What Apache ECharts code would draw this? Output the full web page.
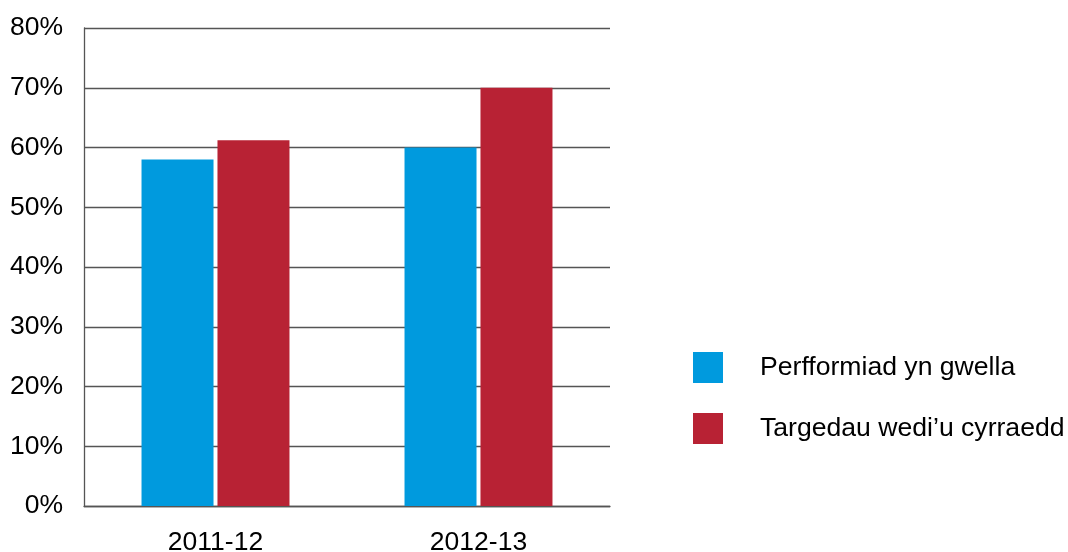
<!DOCTYPE html>
<html>
<head>
<meta charset="utf-8">
<script src="https://cdn.jsdelivr.net/npm/echarts@6/dist/echarts.min.js"></script>
<style>html,body{margin:0;padding:0;background:#fff}#c{width:1068px;height:552px}</style>
</head>
<body>
<div id="c"></div>
<script>
var categories = ['2011-12', '2012-13'];
var seriesNames = ['Perfformiad yn gwella', 'Targedau wedi\u2019u cyrraedd'];
var performance = [58, 60];
var targets = [61.2, 70];
var colors = ['#009ADE', '#B82234'];

var chart = echarts.init(document.getElementById('c'));
var font = '"Liberation Sans", Arial, sans-serif';
chart.setOption({
  animation: false,
  grid: {left: 84, right: 458, top: 28, bottom: 46, containLabel: false, outerBoundsMode: 'none'},
  legend: {
    orient: 'vertical',
    left: 688, top: 347,
    itemWidth: 30, itemHeight: 31, itemGap: 30,
    icon: 'rect',
    textStyle: {fontFamily: font, fontSize: 26.6, color: '#000', padding: [0, 0, 0, 32]},
    data: seriesNames
  },
  xAxis: {
    type: 'category', data: categories,
    axisLine: {lineStyle: {color: '#555', width: 1.3}},
    axisTick: {show: false},
    axisLabel: {fontFamily: font, fontSize: 26.5, color: '#000', margin: 23}
  },
  yAxis: {
    type: 'value', min: 0, max: 80, interval: 10,
    axisLine: {show: true, lineStyle: {color: '#555', width: 1.3}},
    axisTick: {show: false},
    splitLine: {lineStyle: {color: '#555', width: 1.3}},
    axisLabel: {fontFamily: font, fontSize: 26.5, color: '#000', margin: 21, padding: [5, 0, 0, 0], formatter: '{value}%'}
  },
  series: [
    {name: seriesNames[0], type: 'bar', data: performance, barWidth: 72, barGap: '5.5%', itemStyle: {color: colors[0]}},
    {name: seriesNames[1], type: 'bar', data: targets, barWidth: 72, itemStyle: {color: colors[1]}}
  ]
});
</script>
</body>
</html>
